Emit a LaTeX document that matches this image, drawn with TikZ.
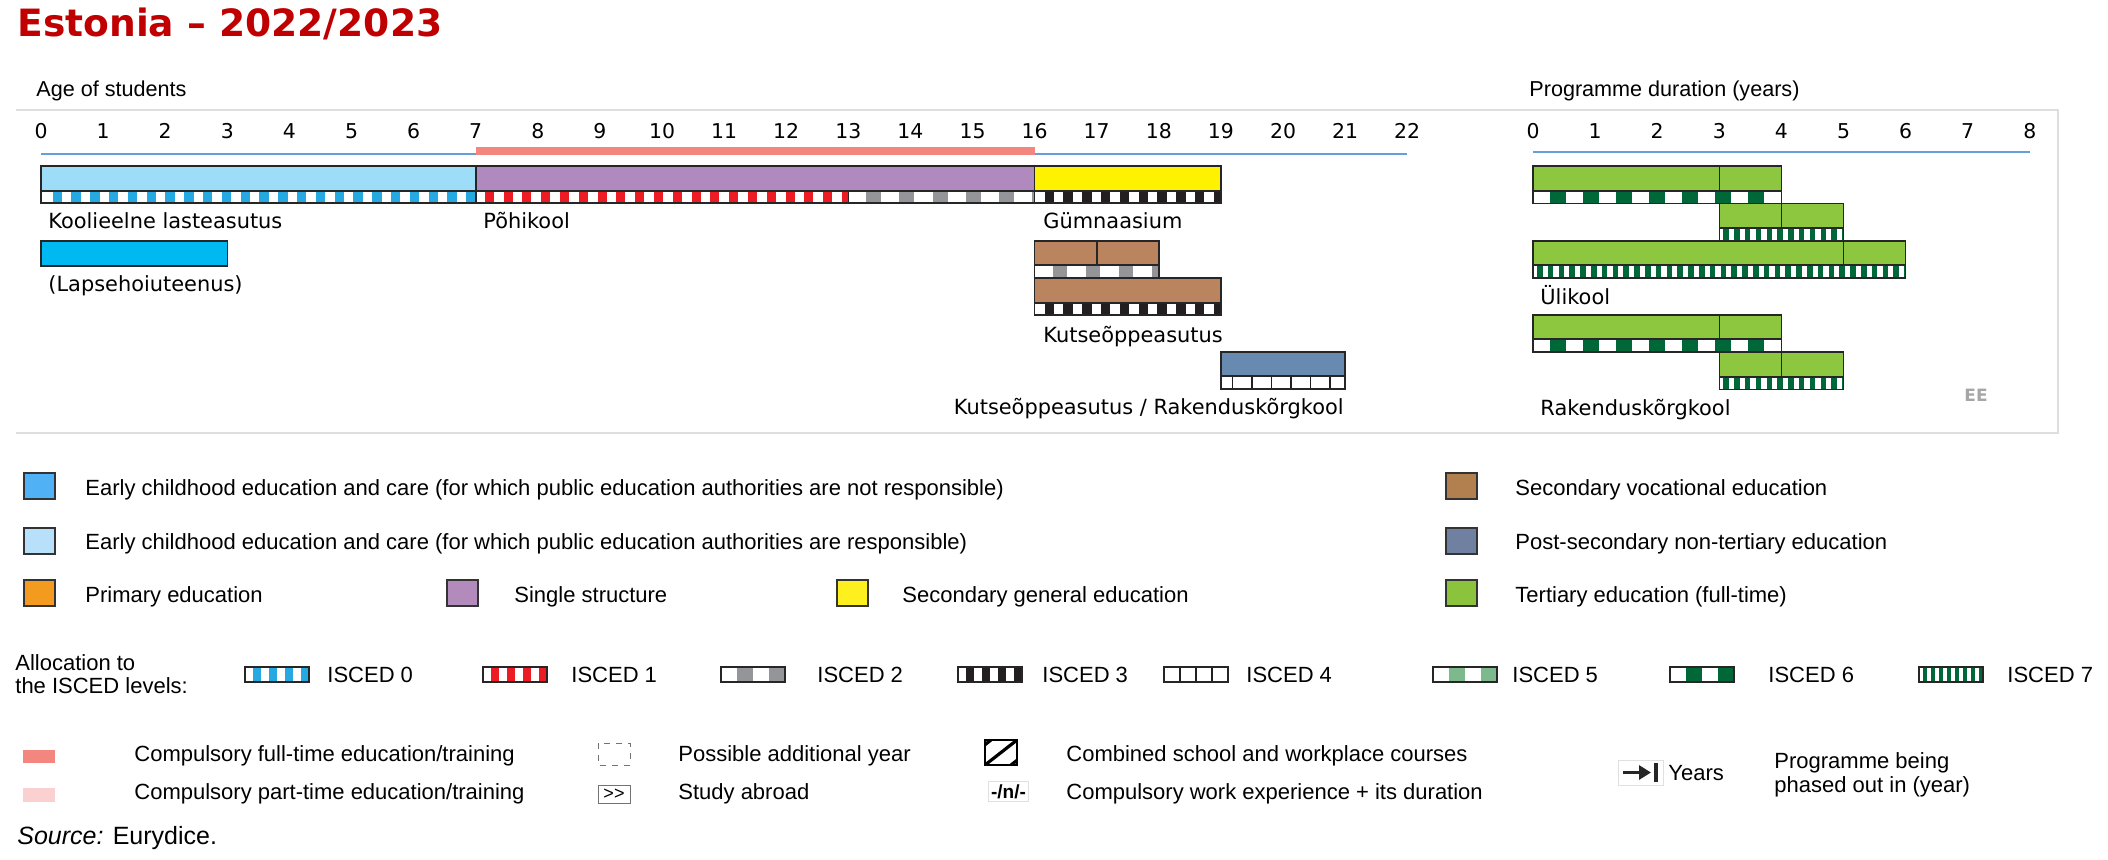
\documentclass[tikz,border=0pt]{standalone}
\usepackage{fontspec}
\setmainfont{Liberation Sans}
\newfontfamily\chartfont{DejaVu Sans}
\usetikzlibrary{arrows.meta,positioning}

\definecolor{TitleRed}{RGB}{192,0,0}
\definecolor{EcecLight}{RGB}{158,221,248}
\definecolor{EcecDark}{RGB}{0,185,241}
\definecolor{SingleStr}{RGB}{176,138,190}
\definecolor{SecGen}{RGB}{255,242,0}
\definecolor{SecVoc}{RGB}{185,132,94}
\definecolor{PostSec}{RGB}{104,137,176}
\definecolor{Tertiary}{RGB}{141,198,63}
\definecolor{IscBlue}{RGB}{38,169,224}
\definecolor{IscRed}{RGB}{237,28,36}
\definecolor{IscGray}{RGB}{147,149,152}
\definecolor{IscBlack}{RGB}{35,31,32}
\definecolor{IscGreen}{RGB}{0,104,56}
\definecolor{IscLightGreen}{RGB}{125,185,140}
\definecolor{CompFull}{RGB}{244,134,128}
\definecolor{CompPart}{RGB}{250,208,208}
\definecolor{AxisBlue}{RGB}{100,160,215}
\definecolor{FrameGray}{RGB}{222,222,222}
\definecolor{LegEcecNot}{RGB}{80,178,245}
\definecolor{LegEcec}{RGB}{185,224,250}
\definecolor{LegPrimary}{RGB}{243,155,31}
\definecolor{LegSingle}{RGB}{178,139,188}
\definecolor{LegSecGen}{RGB}{253,240,30}
\definecolor{LegSecVoc}{RGB}{178,128,78}
\definecolor{LegPostSec}{RGB}{112,128,160}
\definecolor{LegTertiary}{RGB}{140,195,60}

\newcommand{\agex}[1]{(41+62.1*(#1))}
\newcommand{\durx}[1]{(1533+62.1*(#1))}
% ISCED strip: x1, x2, y top, y bottom, colour, period, bar width, offset
\newcommand{\iscedstrip}[8]{%
  \begin{scope}
    \clip ({#1},#3) rectangle ({#2},#4);
    \fill[white] ({#1},#3) rectangle ({#2},#4);
    \foreach \k in {0,...,40}
      \fill[#5] ({#1+#8+\k*#6},#3) rectangle ({#1+#8+\k*#6+#7},#4);
  \end{scope}
  \draw[strip edge] ({#1},#3) rectangle ({#2},#4);}

\begin{document}
\begin{tikzpicture}[x=0.5pt,y=-0.5pt,
  bar/.style={draw=black!85,line width=0.8pt},
  strip edge/.style={draw=black!85,line width=0.8pt},
  title/.style={anchor=base west,inner sep=0pt,text=TitleRed,font=\chartfont\bfseries\fontsize{18.8pt}{22pt}\selectfont},
  lab/.style={anchor=base west,inner sep=0pt,font=\chartfont\fontsize{10.45pt}{12pt}\selectfont},
  tick/.style={anchor=base,inner sep=0pt,font=\chartfont\fontsize{10.2pt}{12pt}\selectfont},
  head/.style={anchor=base west,inner sep=0pt,font=\fontsize{10.8pt}{13pt}\selectfont},
  legtext/.style={anchor=base west,inner sep=0pt,font=\fontsize{11pt}{13pt}\selectfont},
  legbox/.style={draw=black!80,line width=0.9pt},
  ]
\useasboundingbox (0,0) rectangle (2108,860);

\node[title] (title) at (17,37) {Estonia – 2022/2023};
\node[head] (agehead) at (36,97) {Age of students};
\node[head] (durhead) at (1529,97) {Programme duration (years)};

% frame
\draw[FrameGray,line width=0.7pt] (16,110) -- (2058,110) -- (2058,433) -- (16,433);

% axes
\foreach \a in {0,...,22}
  \node[tick] (age\a) at ({\agex{\a}},139) {\a};
\foreach \d in {0,...,8}
  \node[tick] (dur\d) at ({\durx{\d}},139) {\d};
\draw[AxisBlue,line width=1.1pt] ({\agex{0}},154) -- ({\agex{22}},154);
\fill[CompFull] ({\agex{7}},147) rectangle ({\agex{16}},155.5);
\draw[AxisBlue,line width=1.1pt] ({\durx{0}},152) -- ({\durx{8}},152);

% age rows
\draw[bar,fill=EcecLight] ({\agex{0}},166) rectangle ({\agex{7}},191);
\iscedstrip{\agex{0}}{\agex{7}}{191}{203}{IscBlue}{18.8}{9.5}{11.5}
\draw[bar,fill=SingleStr] ({\agex{7}},166) rectangle ({\agex{16}},191);
\iscedstrip{\agex{7}}{\agex{13}}{191}{203}{IscRed}{18.8}{9}{9}
\iscedstrip{\agex{13}}{\agex{16}}{191}{203}{IscGray}{33.1}{15}{18}
\draw[bar,fill=SecGen] ({\agex{16}},166) rectangle ({\agex{19}},191);
\iscedstrip{\agex{16}}{\agex{19}}{191}{203}{IscBlack}{18.8}{9.4}{10}

\draw[bar,fill=EcecDark] ({\agex{0}},241) rectangle ({\agex{3}},266);

\draw[bar,fill=SecVoc] ({\agex{16}},241) rectangle ({\agex{17}},265);
\draw[bar,fill=SecVoc] ({\agex{17}},241) rectangle ({\agex{18}},265);
\iscedstrip{\agex{16}}{\agex{18}}{265}{277.5}{IscGray}{33.1}{14.5}{18}
\draw[bar,fill=SecVoc] ({\agex{16}},278) rectangle ({\agex{19}},303);
\iscedstrip{\agex{16}}{\agex{19}}{303}{315}{IscBlack}{18.8}{9.4}{10}

\draw[bar,fill=PostSec] ({\agex{19}},352) rectangle ({\agex{21}},376);
\iscedstrip{\agex{19}}{\agex{21}}{376}{389}{IscBlack}{19.5}{1.8}{10.6}

\node[lab] (koolieelne) at (48,229) {Koolieelne lasteasutus};
\node[lab] (pohikool) at (483,229) {Põhikool};
\node[lab] (gymn) at (1043,229) {Gümnaasium};
\node[lab] (lapsehoid) at (48,292) {(Lapsehoiuteenus)};
\node[lab] (kutse) at (1043,343) {Kutseõppeasutus};
\node[lab,anchor=base east] (kutserak) at (1344,415) {Kutseõppeasutus / Rakenduskõrgkool};

% duration rows
\draw[bar,fill=Tertiary] ({\durx{0}},166) rectangle ({\durx{3}},191);
\draw[bar,fill=Tertiary] ({\durx{3}},166) rectangle ({\durx{4}},191);
\iscedstrip{\durx{0}}{\durx{4}}{191}{203.5}{IscGreen}{33}{16}{17}
\draw[bar,fill=Tertiary] ({\durx{3}},203.5) rectangle ({\durx{4}},228);
\draw[bar,fill=Tertiary] ({\durx{4}},203.5) rectangle ({\durx{5}},228);
\iscedstrip{\durx{3}}{\durx{5}}{228}{241}{IscGreen}{10.8}{5.5}{4}
\draw[bar,fill=Tertiary] ({\durx{0}},241) rectangle ({\durx{5}},265);
\draw[bar,fill=Tertiary] ({\durx{5}},241) rectangle ({\durx{6}},265);
\iscedstrip{\durx{0}}{\durx{6}}{265}{278}{IscGreen}{10.8}{5.5}{4}
\draw[bar,fill=Tertiary] ({\durx{0}},315) rectangle ({\durx{3}},339);
\draw[bar,fill=Tertiary] ({\durx{3}},315) rectangle ({\durx{4}},339);
\iscedstrip{\durx{0}}{\durx{4}}{339}{352}{IscGreen}{33}{16}{17}
\draw[bar,fill=Tertiary] ({\durx{3}},352) rectangle ({\durx{4}},377);
\draw[bar,fill=Tertiary] ({\durx{4}},352) rectangle ({\durx{5}},377);
\iscedstrip{\durx{3}}{\durx{5}}{377}{389.5}{IscGreen}{10.8}{5.5}{4}

\node[lab] (ulikool) at (1540,305) {Ülikool};
\node[lab] (rakendus) at (1540,416) {Rakenduskõrgkool};
\node[inner sep=0pt,text=black!35,font=\chartfont\bfseries\fontsize{8.5pt}{10pt}\selectfont] (cc) at (1976,395) {EE};

% legend: categories
\foreach \lx/\ly/\col/\tx/\txt [count=\i] in {
  24/473/LegEcecNot/85/Early childhood education and care (for which public education authorities are not responsible),
  24/528/LegEcec/85/Early childhood education and care (for which public education authorities are responsible),
  24/580/LegPrimary/85/Primary education,
  447/580/LegSingle/514/Single structure,
  837/580/LegSecGen/902/Secondary general education,
  1446/473/LegSecVoc/1515/Secondary vocational education,
  1446/528/LegPostSec/1515/Post-secondary non-tertiary education,
  1446/580/LegTertiary/1515/Tertiary education (full-time)} {
  \draw[legbox,fill=\col] (\lx,\ly) rectangle ++(31,26);
  \node[legtext] (leg\i) at (\tx,\ly+22) {\txt};
}

% legend: ISCED levels
\node[legtext] (alloc1) at (15,670) {Allocation to};
\node[legtext] (alloc2) at (15,693) {the ISCED levels:};
\iscedstrip{245}{309}{667}{682}{IscBlue}{16}{8}{8}
\iscedstrip{483}{547}{667}{682}{IscRed}{16}{8}{8}
\iscedstrip{721}{785}{667}{682}{IscGray}{32}{16}{16}
\iscedstrip{958}{1022}{667}{682}{IscBlack}{16}{8}{8}
\iscedstrip{1164}{1228}{667}{682}{IscBlack}{16}{1.5}{15}
\iscedstrip{1433}{1497}{667}{682}{IscLightGreen}{32}{16}{16}
\iscedstrip{1670}{1734}{667}{682}{IscGreen}{32}{16}{16}
\iscedstrip{1919}{1983}{667}{682}{IscGreen}{8}{4}{4}
\foreach \tx/\n in {327/0,571/1,817/2,1042/3,1246/4,1512/5,1768/6,2007/7}
  \node[legtext] (isc\n) at (\tx,682) {ISCED \n};

% legend: other symbols
\fill[CompFull] (23,750) rectangle (55,763);
\node[legtext] (compfull) at (134,761) {Compulsory full-time education/training};
\fill[CompPart] (23,788) rectangle (55,802);
\node[legtext] (comppart) at (134,799) {Compulsory part-time education/training};
\draw[black!55,dashed,line width=0.5pt] (598,743) rectangle (630,765);
\node[legtext] (addyear) at (678,761) {Possible additional year};
\node[draw=black!55,line width=0.5pt,minimum width=16pt,minimum height=9pt,inner sep=0pt,font=\fontsize{9pt}{9pt}\selectfont] (abroadbox) at (614,794.5) {>{}>};
\node[legtext] (abroad) at (678,799) {Study abroad};
\begin{scope}
  \clip (985,740) rectangle (1017,765);
  \foreach \s in {-26,0,26}
    \draw[line width=1.6pt] (985+\s,765) -- (1017+\s,740);
\end{scope}
\draw[line width=1.3pt] (985,740) rectangle (1017,765);
\node[legtext] (combined) at (1066,761) {Combined school and workplace courses};
\node[draw=black!12,line width=0.5pt,inner sep=1.5pt,font=\bfseries\fontsize{9.5pt}{10pt}\selectfont] (workexp) at (1008.5,791.5) {-/n/-};
\node[legtext] (workexptxt) at (1066,799) {Compulsory work experience + its duration};
\draw[black!12,line width=0.5pt] (1618,760) rectangle (1663,785);
\draw[line width=1.6pt,-{Triangle[length=6pt,width=7pt]},black!85] (1623,772.5) -- (1651,772.5);
\draw[line width=2pt,black!85] (1656,763) -- (1656,782);
\node[legtext] (years) at (1668,780) {Years};
\node[legtext] (phase1) at (1774,768) {Programme being};
\node[legtext] (phase2) at (1774,792) {phased out in (year)};

\node[anchor=base west,inner sep=0pt,font=\fontsize{12.5pt}{14pt}\selectfont] (source) at (17,844) {\textit{Source:} Eurydice.};
\end{tikzpicture}
\end{document}
